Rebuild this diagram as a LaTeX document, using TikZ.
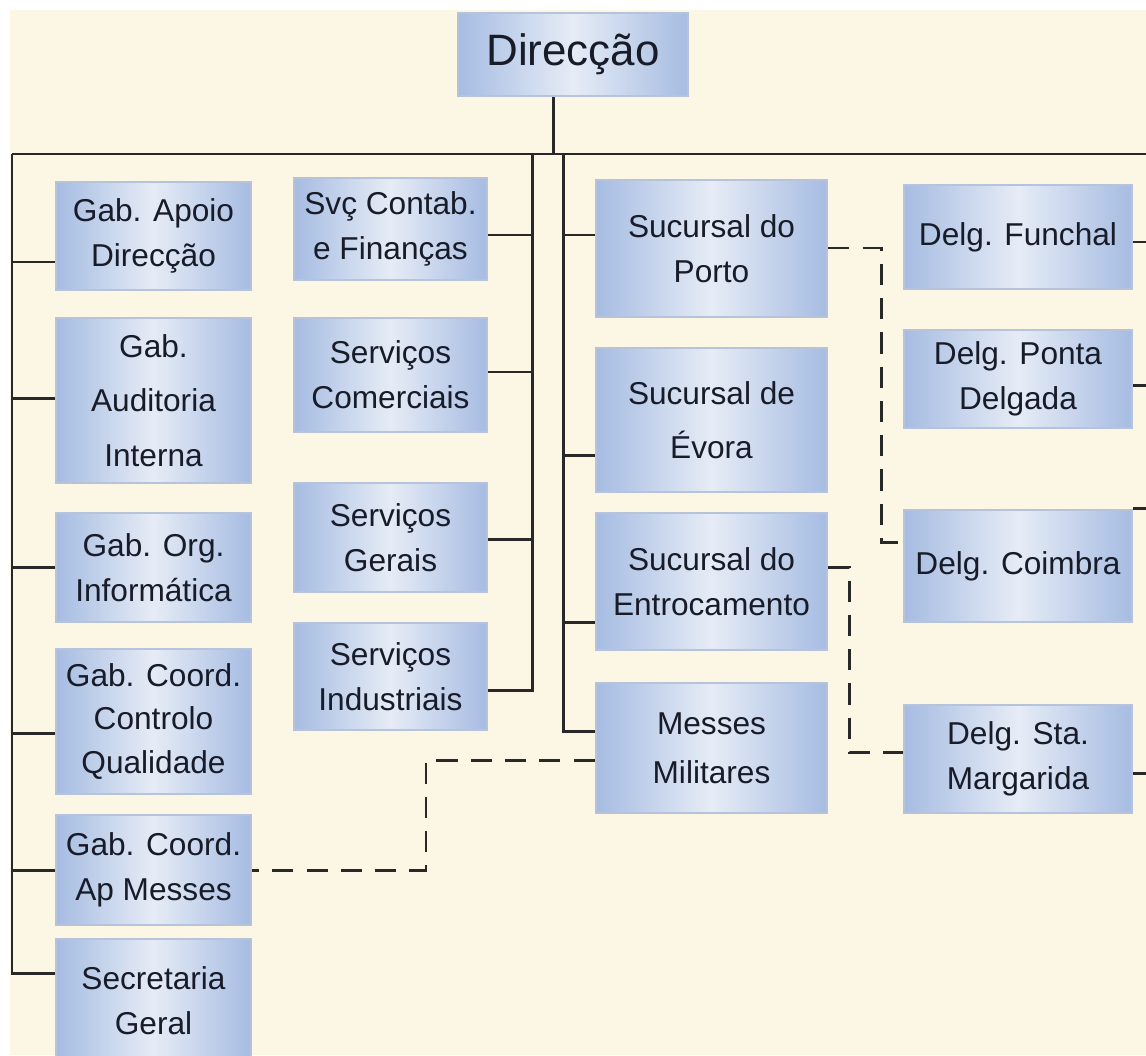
\documentclass[tikz,border=0pt]{standalone}
\usepackage{fontspec}
\setmainfont{Liberation Sans}
\usepackage{xcolor}
\definecolor{paper}{RGB}{252,247,229}
\definecolor{unitblue}{RGB}{166,188,226}
\definecolor{unitlight}{RGB}{230,236,246}
\definecolor{unitframe}{RGB}{182,195,218}
\definecolor{linkline}{RGB}{40,40,40}
\definecolor{unittext}{RGB}{24,27,40}

\begin{document}
\begin{tikzpicture}[x=0.02cm, y=-0.02cm,
  unit/.style={draw=unitframe, line width=1.6pt, left color=unitblue, right color=unitblue,
    middle color=unitlight, text=unittext, align=center, inner sep=0pt,
    font=\fontsize{18}{25.5}\selectfont},
  unitA/.style={unit, minimum width=3.9cm},
  unitB/.style={unit, minimum width=3.86cm},
  unitC/.style={unit, minimum width=4.62cm},
  unitD/.style={unit, minimum width=4.56cm},
  link/.style={linkline, line width=1.7pt},
  dotlink/.style={linkline, line width=1.7pt, dash pattern=on 12pt off 7.5pt}]

  % Background
  \useasboundingbox (0,0) rectangle (1146,1055);
  \fill[white] (0,0) rectangle (1146,1055);
  \fill[paper] (10,10) rectangle (1146,1055);

  % Top
  \node[unit, minimum width=4.6cm, minimum height=1.66cm, font=\fontsize{25}{30}\selectfont]
    (dir) at (573,54.5) {Direcção};

  % Column of Gabinetes
  \node[unitA, minimum height=2.16cm] (apoio) at (153.5,236) {Gab. Apoio\\Direcção};
  \node[unitA, minimum height=3.3cm, font=\fontsize{18}{31}\selectfont] (audit) at (153.5,400.5) {Gab.\\Auditoria\\Interna};
  \node[unitA, minimum height=2.18cm] (info) at (153.5,567.5) {Gab. Org.\\Informática};
  \node[unitA, minimum height=2.9cm, font=\fontsize{18}{24.5}\selectfont] (quali) at (153.5,721.5) {Gab. Coord.\\Controlo\\Qualidade};
  \node[unitA, minimum height=2.2cm] (apmess) at (153.5,870) {Gab. Coord.\\Ap Messes};
  \node[unitA, minimum height=2.46cm] (secret) at (153.5,1000.5) {Secretaria\\Geral};

  % Column of Servicos
  \node[unitB, minimum height=2.04cm] (contab) at (390.5,229) {Svç Contab.\\e Finanças};
  \node[unitB, minimum height=2.28cm] (comerc) at (390.5,375) {Serviços\\Comerciais};
  \node[unitB, minimum height=2.18cm] (gerais) at (390.5,537.5) {Serviços\\Gerais};
  \node[unitB, minimum height=2.14cm] (indus) at (390.5,676.5) {Serviços\\Industriais};

  % Column of Sucursais
  \node[unitC, minimum height=2.74cm] (porto) at (711.5,248.5) {Sucursal do\\Porto};
  \node[unitC, minimum height=2.88cm, font=\fontsize{18}{30.5}\selectfont] (evora) at (711.5,420) {Sucursal de\\Évora};
  \node[unitC, minimum height=2.74cm] (entro) at (711.5,581.5) {Sucursal do\\Entrocamento};
  \node[unitC, minimum height=2.6cm, font=\fontsize{18}{28}\selectfont] (messes) at (711.5,748) {Messes\\Militares};

  % Column of Delegacoes
  \node[unitD, minimum height=2.08cm] (funchal) at (1018,237) {Delg. Funchal};
  \node[unitD, minimum height=1.96cm] (ponta) at (1018,379) {Delg. Ponta\\Delgada};
  \node[unitD, minimum height=2.24cm] (coimbra) at (1018,566) {Delg. Coimbra};
  \node[unitD, minimum height=2.16cm] (marg) at (1018,759) {Delg. Sta.\\Margarida};

  % Main bus
  \coordinate (busL) at (12,154);
  \coordinate (busR) at (1146,154);
  \coordinate (root) at (553,154);
  \coordinate (busB) at (532,154);
  \coordinate (busC) at (563,154);
  \draw[link] (busL) -- (busR);
  \draw[link] (dir.south -| root) -- (root);

  % Gabinetes links
  \draw[link] (apoio.west |- 0,262) -| (busL);
  \draw[link] (audit.west |- 0,398) -| (busL);
  \draw[link] (info.west |- 0,567) -| (busL);
  \draw[link] (quali.west |- 0,733) -| (busL);
  \draw[link] (apmess.west) -| (busL);
  \draw[link] (secret.west |- 0,973) -| (busL);

  % Servicos links
  \draw[link] (contab.east |- 0,235) -| (busB);
  \draw[link] (comerc.east |- 0,372) -| (busB);
  \draw[link] (gerais.east |- 0,539) -| (busB);
  \draw[link] (indus.east |- 0,690) -| (busB);

  % Sucursais links
  \draw[link] (porto.west |- 0,235) -| (busC);
  \draw[link] (evora.west |- 0,455) -| (busC);
  \draw[link] (entro.west |- 0,622) -| (busC);
  \draw[link] (messes.west |- 0,731) -| (busC);

  % Delegacoes links (leaving the picture)
  \draw[link] (funchal.east |- 0,242) -- ++(30,0);
  \draw[link] (ponta.east |- 0,385) -- ++(30,0);
  \draw[link] (coimbra.north east) -- ++(30,0);
  \draw[link] (marg.east |- 0,773) -- ++(30,0);

  % Dashed links
  \draw[dotlink] (porto.east |- 0,248) -| (881,542) -- (coimbra.west |- 0,542);
  \draw[dotlink] (entro.east |- 0,567) -| (849,752) -- (marg.west |- 0,752);
  \draw[dotlink] (messes.west |- 0,760) -| (426,870) -- (apmess.east);

\end{tikzpicture}
\end{document}
